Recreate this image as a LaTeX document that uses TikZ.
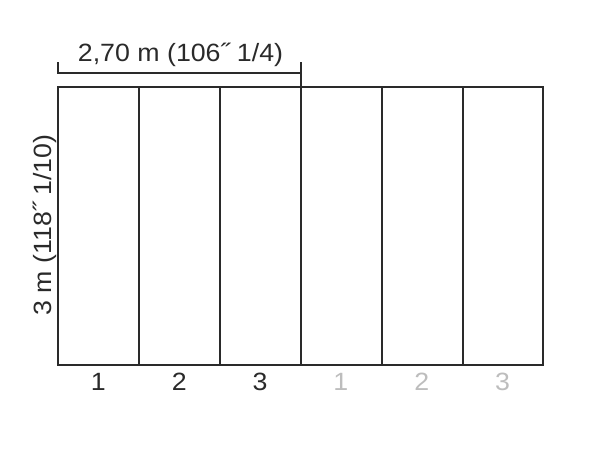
\documentclass[tikz,border=0pt]{standalone}
\usepackage{fontspec}
\setmainfont{Liberation Sans}[FakeStretch=1.07]
\usetikzlibrary{positioning}
\definecolor{linegray}{HTML}{2A2A2A}
\definecolor{panelgray}{HTML}{BDBDBD}
\begin{document}
\begin{tikzpicture}[x=1pt,y=-1pt,line width=1.2pt,
  lbl/.style={font=\fontsize{25}{29}\selectfont, inner sep=0pt, text=linegray}]
\useasboundingbox (0,0) rectangle (600,450);

% panels
\draw[linegray] (58,87) rectangle (543,365);
\foreach \x in {139,220,301,382,463}
  \draw[linegray] (\x,87) -- (\x,365);

% panel numbers
\foreach \n/\c [count=\i] in {1/linegray,2/linegray,3/linegray,1/panelgray,2/panelgray,3/panelgray}
  \node[lbl, text=\c, anchor=base] (num\i) at (98.4+\i*80.83-80.83,390) {\n};

% width
\coordinate (wl) at (58,73);
\coordinate (wr) at (301,73);
\draw[linegray] (58,62) -- (wl) -- (wr);
\draw[linegray] (301,62) -- (301,87);
\node[lbl, anchor=base] (width) at (180.5,61.5) {2,70 m (106˝ 1/4)};

% height
\node[lbl, anchor=base, rotate=90] (height) at (51.5,225) {3 m (118˝ 1/10)};

\end{tikzpicture}
\end{document}
